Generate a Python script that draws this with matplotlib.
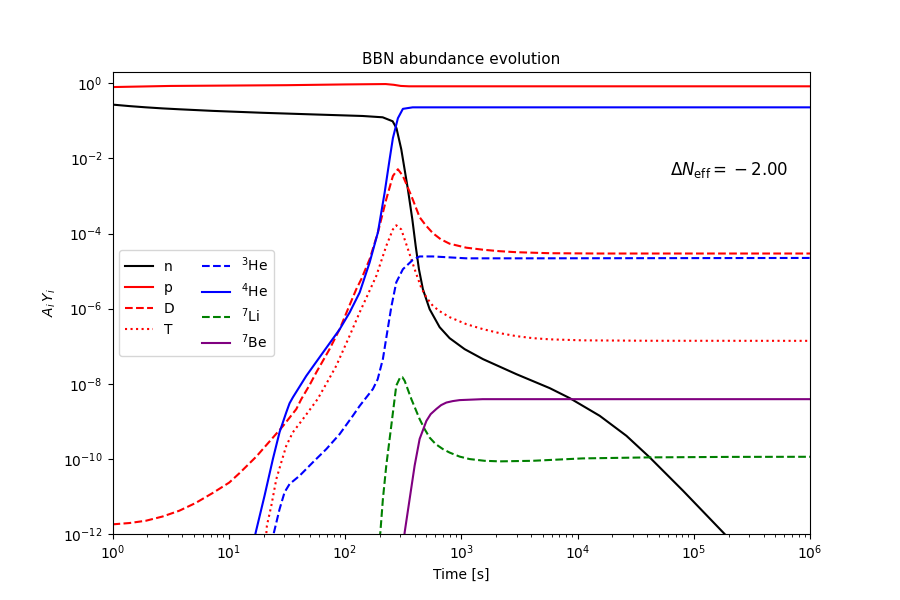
import numpy as np
import matplotlib
matplotlib.use("Agg")
import matplotlib.pyplot as plt

# log10(time [s]) and log10(A_i Y_i)
n_lt = [0.000, 0.146, 0.284, 0.430, 0.577, 0.861, 1.291, 1.721, 2.151, 2.324, 2.410, 2.443, 2.484, 2.541,
        2.579, 2.608, 2.636, 2.670, 2.728, 2.814, 2.900, 3.029, 3.187, 3.474, 3.761, 3.933, 4.191,
        4.421, 4.621, 4.908, 5.252, 5.396]
n_ly = [-0.567, -0.607, -0.639, -0.668, -0.692, -0.734, -0.785, -0.828, -0.870, -0.905, -1.011, -1.197,
        -1.756, -2.821, -3.619, -4.330, -4.949, -5.481, -6.014, -6.493, -6.786, -7.078, -7.344, -7.744,
        -8.116, -8.382, -8.853, -9.386, -9.960, -10.849, -11.956, -12.43]

p_lt = [0.0, 0.5, 1.0, 1.5, 2.0, 2.35, 2.42, 2.48, 2.55, 6.0]
p_ly = [-0.10, -0.07, -0.06, -0.05, -0.03, -0.02, -0.04, -0.07, -0.08, -0.08]

d_lt = [0.000, 0.146, 0.287, 0.430, 0.574, 0.714, 0.861, 1.004, 1.093, 1.237, 1.380, 1.466, 1.581, 1.624,
        1.695, 1.753, 1.867, 1.954, 2.025, 2.097, 2.140, 2.212, 2.283, 2.355, 2.412, 2.455, 2.498,
        2.571, 2.642, 2.694, 2.756, 2.823, 2.900, 3.044, 3.187, 3.330, 3.474, 3.761, 4.191, 6.0]
d_ly = [-11.743, -11.708, -11.647, -11.535, -11.381, -11.176, -10.910, -10.631, -10.378, -9.939, -9.433,
        -9.127, -8.675, -8.409, -8.036, -7.698, -7.078, -6.546, -6.014, -5.482, -5.216, -4.683, -3.973,
        -3.087, -2.467, -2.288, -2.467, -2.999, -3.566, -3.779, -3.991, -4.151, -4.271, -4.377, -4.431,
        -4.470, -4.497, -4.524, -4.532, -4.532]

t_lt = [1.317, 1.328, 1.366, 1.409, 1.452, 1.495, 1.552, 1.638, 1.764, 1.861, 1.925, 2.040, 2.126,
        2.197, 2.269, 2.355, 2.412, 2.441, 2.484, 2.541, 2.599, 2.657, 2.702, 2.756, 2.814, 2.900,
        3.044, 3.187, 3.330, 3.474, 3.614, 3.761, 4.045, 4.621, 6.0]
t_ly = [-12.27, -11.78, -11.25, -10.54, -10.09, -9.65, -9.29, -8.94, -8.41, -7.88, -7.52, -6.72,
        -6.10, -5.62, -5.13, -4.33, -3.89, -3.78, -3.89, -4.41, -4.95, -5.455, -5.708, -5.926, -6.067,
        -6.227, -6.413, -6.546, -6.652, -6.732, -6.785, -6.817, -6.844, -6.855, -6.857]

he3_lt = [1.377, 1.388, 1.437, 1.480, 1.523, 1.609, 1.724, 1.839, 1.954, 2.068, 2.126, 2.240, 2.281,
          2.326, 2.355, 2.398, 2.441, 2.498, 2.584, 2.642, 2.756, 3.044, 3.589, 6.0]
he3_ly = [-12.27, -11.97, -11.34, -10.89, -10.67, -10.45, -10.09, -9.74, -9.34, -8.85, -8.59, -8.14,
          -7.88, -7.34, -6.78, -5.96, -5.30, -4.95, -4.70, -4.61, -4.61, -4.66, -4.66, -4.65]

he4_lt = [1.213, 1.231, 1.308, 1.380, 1.437, 1.495, 1.523, 1.552, 1.667, 1.810, 1.954, 2.040, 2.126,
          2.212, 2.283, 2.341, 2.384, 2.412, 2.455, 2.498, 2.582, 6.0]
he4_ly = [-12.27, -11.97, -10.98, -10.00, -9.29, -8.76, -8.52, -8.36, -7.79, -7.17, -6.55, -6.10, -5.57,
          -4.77, -3.97, -2.91, -2.02, -1.46, -0.93, -0.68, -0.64, -0.64]

li7_lt = [2.298, 2.304, 2.326, 2.355, 2.398, 2.441, 2.476, 2.493, 2.513, 2.571, 2.642, 2.685, 2.728,
          2.780, 2.842, 2.900, 2.986, 3.072, 3.201, 3.330, 3.614, 4.045, 4.621, 5.310, 6.0]
li7_ly = [-12.13, -11.96, -11.07, -10.18, -9.12, -8.05, -7.82, -7.823, -7.92, -8.41, -8.941, -9.207,
          -9.433, -9.606, -9.739, -9.832, -9.939, -10.005, -10.051, -10.066, -10.051, -9.987, -9.960,
          -9.947, -9.944]

be7_lt = [2.504, 2.513, 2.556, 2.599, 2.642, 2.700, 2.737, 2.786, 2.827, 2.872, 2.926, 2.986, 3.184, 6.0]
be7_ly = [-12.27, -11.96, -11.07, -10.18, -9.47, -8.99, -8.808, -8.67, -8.568, -8.50, -8.462, -8.435,
          -8.41, -8.41]

series = [
    ("n", n_lt, n_ly, "black", "-"),
    ("p", p_lt, p_ly, "red", "-"),
    ("D", d_lt, d_ly, "red", "--"),
    ("T", t_lt, t_ly, "red", ":"),
    ("$^3$He", he3_lt, he3_ly, "blue", "--"),
    ("$^4$He", he4_lt, he4_ly, "blue", "-"),
    ("$^7$Li", li7_lt, li7_ly, "green", "--"),
    ("$^7$Be", be7_lt, be7_ly, "purple", "-"),
]

fig, ax = plt.subplots(figsize=(9, 6), dpi=100)
for label, lt, ly, color, ls in series:
    ax.plot(10 ** np.array(lt), 10 ** np.array(ly), color=color, linestyle=ls, label=label)

ax.set_xscale("log")
ax.set_yscale("log")
ax.set_xlim(1, 1e6)
ax.set_ylim(1e-12, 2)
ax.set_xlabel("Time [s]")
ax.set_ylabel(r"$A_i\,Y_i$")
ax.set_title("BBN abundance evolution", fontsize=11)
ax.text(0.80, 0.777, r"$\Delta N_{\rm eff} = {}-2.00$", transform=ax.transAxes, fontsize=12)
ax.legend(loc="center left", ncol=2)
fig.savefig("out.png", dpi=100)
